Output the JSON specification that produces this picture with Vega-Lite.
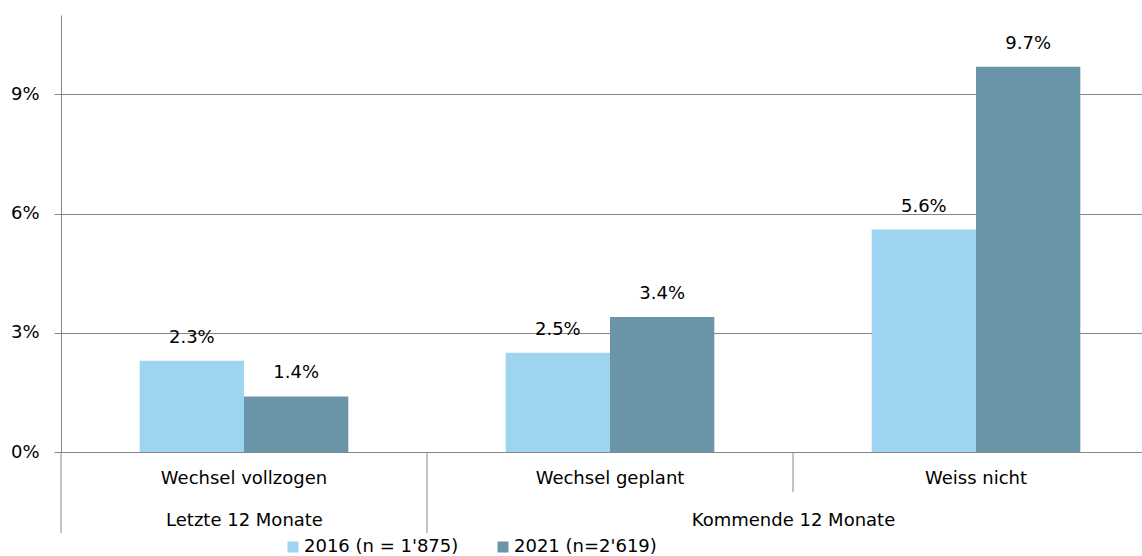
{
  "$schema": "https://vega.github.io/schema/vega-lite/v6.json",
  "width": 1081,
  "height": 437,
  "autosize": {"type": "none"},
  "padding": {"left": 61, "top": 15, "right": 0, "bottom": 104},
  "config": {
    "font": "DejaVu Sans",
    "view": {"stroke": null},
    "axis": {"labelFont": "DejaVu Sans", "labelFontSize": 18, "labelColor": "#000000"},
    "legend": {"labelFont": "DejaVu Sans", "labelFontSize": 18, "labelColor": "#000000"}
  },
  "datasets": {
    "bars": [
      {"category": "Wechsel vollzogen", "series": "2016 (n = 1'875)", "value": 0.023},
      {"category": "Wechsel vollzogen", "series": "2021 (n=2'619)", "value": 0.014},
      {"category": "Wechsel geplant", "series": "2016 (n = 1'875)", "value": 0.025},
      {"category": "Wechsel geplant", "series": "2021 (n=2'619)", "value": 0.034},
      {"category": "Weiss nicht", "series": "2016 (n = 1'875)", "value": 0.056},
      {"category": "Weiss nicht", "series": "2021 (n=2'619)", "value": 0.097}
    ],
    "separators": [
      {"boundary": 0, "ext": -0.0204},
      {"boundary": 1, "ext": -0.0204},
      {"boundary": 2, "ext": -0.0101}
    ]
  },
  "layer": [
    {
      "data": {"name": "bars"},
      "encoding": {
        "x": {
          "field": "category",
          "type": "nominal",
          "sort": ["Wechsel vollzogen", "Wechsel geplant", "Weiss nicht"],
          "scale": {"paddingInner": 0.43, "paddingOuter": 0.215, "range": [0, 1098]},
          "axis": {"title": null, "ticks": false, "domain": false, "grid": false, "labelAngle": 0, "labelPadding": 17, "orient": "bottom", "labelLimit": 400}
        },
        "xOffset": {
          "field": "series",
          "type": "nominal",
          "scale": {"paddingInner": 0, "paddingOuter": 0}
        },
        "y": {
          "field": "value",
          "type": "quantitative",
          "scale": {"domain": [0, 0.11], "nice": false, "zero": true},
          "axis": {
            "title": null,
            "values": [0, 0.03, 0.06, 0.09],
            "format": ".0%",
            "grid": true,
            "gridColor": "#868686",
            "gridWidth": 1,
            "domainColor": "#868686",
            "tickColor": "#868686",
            "tickSize": 7,
            "labelPadding": 15
          }
        }
      },
      "layer": [
        {
          "mark": {"type": "bar"},
          "encoding": {
            "color": {
              "field": "series",
              "type": "nominal",
              "scale": {"domain": ["2016 (n = 1'875)", "2021 (n=2'619)"], "range": ["#9DD4EF", "#6A94A8"]},
              "legend": {
                "title": null,
                "orient": "none",
                "direction": "horizontal",
                "legendX": 223,
                "legendY": 523,
                "symbolType": "square",
                "symbolSize": 121,
                "symbolStrokeWidth": 0,
                "labelOffset": 2,
                "columnPadding": 35,
                "labelLimit": 300
              }
            }
          }
        },
        {
          "mark": {"type": "text", "baseline": "middle", "dy": -23, "fontSize": 18, "color": "#000000"},
          "encoding": {
            "text": {"field": "value", "type": "quantitative", "format": ".1%"}
          }
        }
      ]
    },
    {
      "data": {"name": "separators"},
      "mark": {"type": "rule", "color": "#868686", "strokeWidth": 1},
      "encoding": {
        "x": {
          "field": "boundary",
          "type": "quantitative",
          "scale": {"domain": [0, 3], "nice": false, "zero": false, "range": [0, 1098]},
          "axis": {
            "orient": "bottom",
            "title": null,
            "values": [0.5, 2],
            "labelExpr": "datum.value == 0.5 ? 'Letzte 12 Monate' : 'Kommende 12 Monate'",
            "ticks": false,
            "domain": false,
            "grid": false,
            "labelPadding": 59,
            "labelFlush": false,
            "labelOverlap": false,
            "labelLimit": 400
          }
        },
        "y": {"field": "ext", "type": "quantitative", "scale": {"domain": [0, 0.11], "nice": false}},
        "y2": {"datum": 0}
      }
    }
  ],
  "resolve": {"scale": {"x": "independent"}, "axis": {"x": "independent"}}
}
